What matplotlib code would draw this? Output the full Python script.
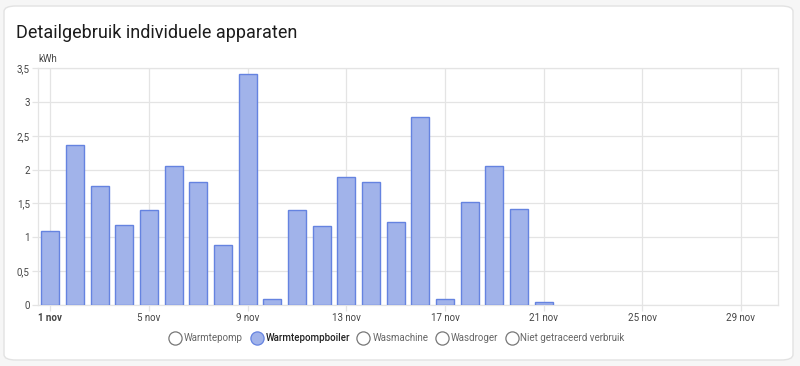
import numpy as np
import matplotlib
matplotlib.use('Agg')
import matplotlib.pyplot as plt
from matplotlib.patches import FancyBboxPatch
from matplotlib.lines import Line2D
from matplotlib.ticker import FuncFormatter

plt.rcParams['font.family'] = ['Roboto', 'DejaVu Sans']

# data
days = list(range(1, 31))
kwh = [1.10, 2.37, 1.76, 1.18, 1.40, 2.05, 1.81, 0.88, 3.41, 0.09,
       1.40, 1.17, 1.89, 1.81, 1.22, 2.77, 0.09, 1.52, 2.06, 1.42,
       0.04, 0, 0, 0, 0, 0, 0, 0, 0, 0]
tick_days = [1, 5, 9, 13, 17, 21, 25, 29]
tick_labels = [f'{d} nov' for d in tick_days]
series = ['Warmtepomp', 'Warmtepompboiler', 'Wasmachine', 'Wasdroger', 'Niet getraceerd verbruik']
active = 'Warmtepompboiler'

FILL = '#a1b3ea'
EDGE = '#6583e0'
GRID = '#e4e4e4'
TXT = '#444444'

fig = plt.figure(figsize=(8, 3.66), dpi=100)
fig.patch.set_facecolor('#f6f6f6')
card = FancyBboxPatch((4/800, 6/366), 789/800, 354/366,
                      boxstyle='round,pad=0,rounding_size=0.015',
                      transform=fig.transFigure, facecolor='white',
                      edgecolor='#e2e2e2', linewidth=1.0, zorder=-10)
fig.patches.append(card)

fig.text(16/800, 1 - 33/366, 'Detailgebruik individuele apparaten',
         fontsize=13, color='#1c1c1c', va='center', ha='left')

ax = fig.add_axes([38/800, 61/366, 740/800, 237/366])
ax.set_facecolor('none')
# empty days get no outline
edges = [EDGE if v > 0 else 'none' for v in kwh]
ax.bar(days, kwh, width=0.72, color=FILL, edgecolor=edges, linewidth=1.0, zorder=3)
ax.set_xlim(0.5, 30.5)
ax.set_ylim(0, 3.5)
ax.set_yticks(np.arange(0, 3.51, 0.5))
ax.yaxis.set_major_formatter(FuncFormatter(lambda v, p: f'{v:g}'.replace('.', ',')))
ax.set_xticks(tick_days)
ax.set_xticklabels(tick_labels)
ax.get_xticklabels()[0].set_fontweight('bold')
ax.get_xticklabels()[0].set_color('#222222')
ax.grid(True, color=GRID, linewidth=0.9, zorder=0)
for s in ax.spines.values():
    s.set_color(GRID)
    s.set_linewidth(0.9)
ax.tick_params(axis='both', colors=GRID, labelcolor=TXT, labelsize=7, length=4, width=0.9, pad=2)
ax.text(0, 1.015, 'kWh', transform=ax.transAxes, fontsize=7, color=TXT, ha='left', va='bottom')

handles = [Line2D([], [], linestyle='none', marker='o', markersize=9.5,
                  markerfacecolor=(FILL if s == active else 'white'),
                  markeredgecolor=(EDGE if s == active else '#777777'), markeredgewidth=0.9)
           for s in series]
leg = fig.legend(handles, series, loc='center', bbox_to_anchor=(397/800, 1 - 338/366),
                 ncol=5, frameon=False, fontsize=7, handletextpad=0.3, columnspacing=0.8,
                 handlelength=1.2)
for t, s in zip(leg.get_texts(), series):
    t.set_color('#222222' if s == active else '#666666')
    if s == active:
        t.set_fontweight('medium')

fig.savefig('out.png', dpi=100)
